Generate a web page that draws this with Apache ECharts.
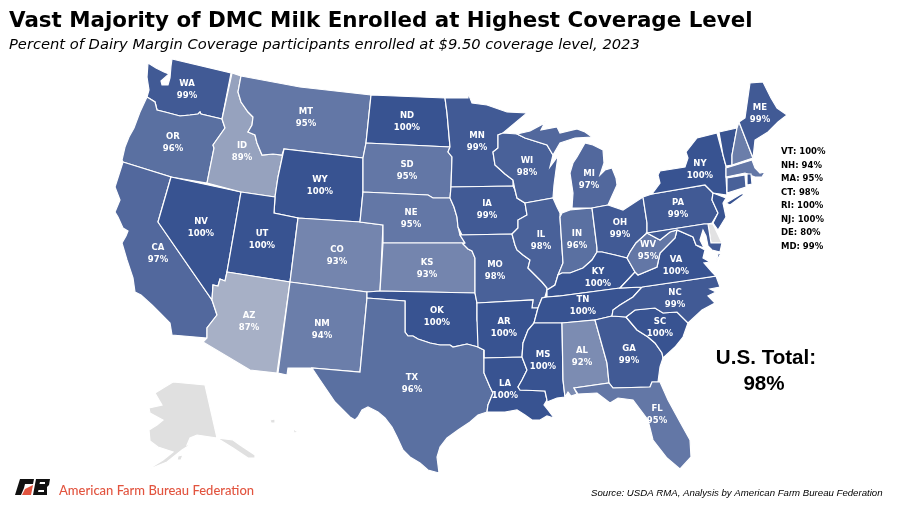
<!DOCTYPE html>
<html><head><meta charset="utf-8">
<style>html,body{margin:0;padding:0;background:#fff}#c{width:900px;height:507px}</style>
<script src="https://cdn.jsdelivr.net/npm/echarts@6/dist/echarts.min.js"></script>
</head><body><div id="c"></div>
<script>
const stateCodes = ['WA','OR','CA','NV','ID','MT','WY','UT','AZ','CO','NM','ND','SD','NE','KS','OK','TX','MN','IA','MO','AR','LA','WI','IL','IN','MI','OH','KY','TN','MS','AL','GA','FL','SC','NC','VA','WV','PA','NY','ME','VT','NH','MA','CT','RI','NJ','DE','MD'];
const percentValues = [99,96,97,100,89,95,100,100,87,93,94,100,95,95,93,100,96,99,99,98,100,100,98,98,96,97,99,100,100,100,92,99,95,100,99,100,95,99,100,99,100,94,95,98,100,100,80,99];
const sideListStates = ['VT','NH','MA','CT','RI','NJ','DE','MD'];
const titleText = 'Vast Majority of DMC Milk Enrolled at Highest Coverage Level';
const subtitleText = 'Percent of Dairy Margin Coverage participants enrolled at $9.50 coverage level, 2023';
const totalLabel = 'U.S. Total:';
const totalValue = '98%';
const sourceText = 'Source: USDA RMA, Analysis by American Farm Bureau Federation';
const orgText = 'American Farm Bureau Federation';

// Hand-traced basemap geometry (flat projected space): shared borders, then state outlines
const rv = a => [...a].reverse();
const columbia=[[147,97],[155,102],[157,110],[165,112],[180,116],[190,115],[198,114],[200,112],[201,114],[222,119]];
const snake=[[222,119],[225,128],[213,145],[214,148],[207,183]];
const bitterroot=[[241,76],[238,92],[241,102],[248,112],[253,117],[252,125],[248,132],[255,135],[257,143],[262,155],[273,154],[282,155],[284,149]];
const sdIowa=[[450,147],[448,152],[452,157],[451,187]];
const moNebraska=[[451,187],[450,198],[454,207],[457,217],[458,227],[460,235]];
const moKansas=[[460,235],[465,243],[463,244],[468,249],[472,251],[475,258]];
const mnWi=[[498,135],[498,148],[493,152],[495,165],[505,174],[513,180],[513,186]];
const iaIl=[[513,186],[515,190],[517,198],[525,203],[527,215],[518,220],[518,228],[512,234]];
const moIl=[[512,234],[515,245],[517,250],[523,255],[530,260],[528,268],[535,275],[542,282],[547,288],[547,290]];
const arRiver=[[542,298],[538,308],[534,323],[528,330],[523,343],[522,357]];
const laMs=[[522,357],[527,370],[522,380],[518,387],[520,390],[545,391],[547,400]];
const ohioIlIn=[[547,290],[555,285],[558,275],[562,273],[570,273],[583,268],[592,260],[597,252]];
const ohioOh=[[597,252],[602,252],[615,255],[627,258]];
const ohWv=[[627,258],[630,252],[636,243],[647,233],[647,223]];
const red=[[405,332],[408,336],[413,336],[418,339],[430,343],[440,345],[450,345],[453,347],[467,344],[478,347],[484,350]];
const sabine=[[484,350],[484,373],[490,387],[493,393],[488,405],[487,412]];
const tnNc=[[642,287],[633,297],[620,305],[613,310],[612,316]];
const savannah=[[626,317],[637,330],[648,337],[655,343],[662,353],[663,358]];
const ncSc=[[626,317],[635,310],[655,308],[663,313],[677,312],[688,323]];
const wvVa=[[635,272],[638,275],[657,267],[660,253],[675,238],[677,230]];
const outlines = {
WA:[[[148,63],[156,68],[164,72],[169,74],[161,81],[162,85],[168,85],[170,78],[171,66],[172,59],[231,73],...rv(columbia),[149,90],[147,77]]],
OR:[[...columbia,...snake,[171,177],[123,162],[122,160],[125,147],[129,137],[134,128],[140,112]]],
CA:[[[123,162],[171,177],[158,222],[212,300],[217,315],[207,328],[207,338],[172,335],[170,323],[160,313],[152,305],[141,295],[135,292],[133,278],[127,260],[122,243],[126,236],[128,231],[123,228],[118,217],[115,212],[120,200],[115,187]]],
NV:[[[171,177],[241,192],[227,272],[225,281],[220,279],[218,286],[213,285],[212,300],[158,222]]],
ID:[[[232,73],...bitterroot,[278,177],[275,197],[241,192],...rv(snake)]],
MT:[[[241,76],[300,87],[371,95],[366,143],[363,158],...rv(bitterroot)]],
WY:[[[284,149],[363,158],[363,192],[360,222],[298,218],[274,213],[275,197],[278,177]]],
UT:[[[241,192],[275,197],[274,213],[298,218],[290,282],[227,272]]],
AZ:[[[227,272],[290,282],[277,373],[250,370],[203,342],[207,338],[207,328],[217,315],[212,300],[213,285],[218,286],[220,279],[225,281]]],
CO:[[[298,218],[360,222],[383,225],[380,291],[367,292],[290,282]]],
NM:[[[290,282],[367,292],[367,298],[360,372],[312,368],[288,368],[287,375],[278,373]]],
ND:[[[371,95],[445,98],[447,113],[450,147],[366,143]]],
SD:[[[366,143],...sdIowa,[450,198],[433,198],[428,195],[363,192],[363,158]]],
NE:[[[363,192],[428,195],[433,198],[450,198],[454,207],[457,217],[458,227],[460,235],[465,243],[383,243],[383,225],[360,222]]],
KS:[[[383,243],[465,243],[463,244],[468,249],[472,251],[475,258],[475,293],[380,291]]],
OK:[[[367,292],[380,291],[475,293],[477,303],[477,320],...rv(red),[405,301],[367,298]]],
TX:[[[367,298],[405,301],...red,...sabine,[478,415],[470,422],[458,430],[447,438],[440,447],[437,457],[439,473],[428,470],[420,463],[410,457],[403,450],[397,437],[392,427],[385,418],[378,412],[368,407],[362,410],[358,417],[355,420],[350,417],[335,402],[320,380],[312,368],[360,372]]],
MN:[[[445,98],[468,98],[468,93],[472,103],[487,105],[507,112],[527,113],[503,133],...mnWi,[451,187],...rv(sdIowa),[447,113]]],
IA:[[...moNebraska.slice(0,-1),[462,235],...rv(iaIl),[451,187]]],
MO:[[[460,235],...moIl.slice(0,-1),[547,290],[545,297],...arRiver.slice(0,2),[532,308],[533,300],[477,303],[475,293],...rv(moKansas)]],
AR:[[[477,303],[533,300],[532,308],...arRiver.slice(1),[484,358],[484,350],[478,347],[477,320]]],
LA:[[[484,358],...laMs,[544,405],[548,410],[554,418],[547,416],[540,420],[532,420],[525,415],[517,410],[505,412],[490,412],...rv(sabine)]],
WI:[[[498,135],[503,133],[517,134],[525,138],[547,145],[553,155],[550,167],[558,156],[556,170],[554,185],[553,198],[525,203],[517,198],[515,190],...rv(mnWi).slice(1)]],
IL:[[[525,203],[553,198],[557,207],[560,213],[560,217],[563,263],[558,275],[555,285],...rv(moIl).slice(0,-1),[512,234],[518,228],[518,220],[527,215]]],
IN:[[[560,217],[562,213],[570,210],[592,208],[597,248],[597,252],[592,260],[583,268],[570,273],[562,273],[558,275],[563,263]]],
MI:[[[585,143],[593,145],[603,150],[604,163],[600,175],[605,170],[612,168],[616,178],[617,185],[612,196],[608,205],[592,208],[572,208],[573,193],[570,173],[573,163],[577,157]],[[517,134],[530,131],[543,124],[546,120],[541,130],[557,127],[560,133],[577,129],[585,132],[592,137],[575,138],[560,143],[553,155],[547,145],[525,138]]],
OH:[[[592,208],[608,205],[623,210],[643,197],...rv(ohWv),...rv(ohioOh),[597,248]]],
KY:[[...ohioIlIn,...ohioOh.slice(1),[635,272],[620,288],[560,296],[561,299],[559,296],[547,297]]],
TN:[[[542,298],[547,297],[560,296],[620,288],...tnNc,[595,320],[562,323],[534,323],[538,308]]],
MS:[[[534,323],[562,323],[563,380],[565,397],[557,398],[547,402],...rv(laMs),...rv(arRiver).slice(1,3)]],
AL:[[[562,323],[595,320],[607,363],[609,383],[574,388],[577,394],[571,396],[568,392],[565,397],[563,380]]],
GA:[[[595,320],[612,316],...savannah,[660,367],[658,382],[652,382],[650,387],[613,388],[609,383],[607,363]]],
FL:[[[574,388],[609,383],[613,388],[650,387],[652,382],[658,382],[660,382],[668,400],[680,422],[690,440],[691,457],[680,469],[667,458],[653,440],[648,420],[633,400],[618,398],[610,403],[597,393],[578,394]]],
SC:[[...ncSc,[683,337],[675,347],[663,358],...rv(savannah).slice(1)]],
NC:[[[642,287],[683,281],[716,276],[720,287],[710,289],[716,292],[708,296],[715,303],[702,310],[688,323],...rv(ncSc),[612,316],...rv(tnNc).slice(1,-1)]],
VA:[[[620,288],[635,272],...wvVa.slice(1),[693,237],[696,245],[705,250],[703,258],[710,262],[704,263],[712,272],[716,276],[683,281],[642,287]],[[718,254],[721,253],[716,262]]],
WV:[[[636,243],[647,233],[660,240],[670,232],[677,230],[675,238],[660,253],[657,267],[638,275],[635,272],[627,258],[630,252]]],
PA:[[[643,197],[652,194],[705,185],[713,193],[712,200],[718,213],[712,223],[708,224],[704,224],[647,233],[647,223]]],
NY:[[[652,194],[660,183],[658,175],[660,171],[685,167],[688,158],[686,152],[697,138],[717,133],[723,155],[726,166],[726,177],[727,195],[713,193],[705,185]],[[726,203],[741,194],[745,194],[730,205]]],
VT:[[[719,132],[737,128],[732,155],[732,165],[726,166],[723,155]]],
NH:[[[737,128],[739,122],[753,158],[732,165],[732,155]]],
ME:[[[739,122],[745,118],[750,83],[763,82],[771,98],[777,108],[787,115],[778,122],[768,132],[755,140],[753,158]]],
MA:[[[726,168],[752,160],[755,168],[760,173],[765,172],[762,177],[755,177],[745,173],[726,177]]],
CT:[[[727,178],[745,175],[746,187],[727,193]]],
RI:[[[747,174],[751,174],[752,184],[747,185]]],
NJ:[[[713,193],[726,198],[723,203],[726,217],[718,230],[713,223],[718,213],[712,200]]],
DE:[[[708,224],[713,224],[722,243],[711,243]]],
MD:[[[647,233],[704,224],[708,224],[711,243],[722,243],[720,252],[712,250],[708,246],[706,236],[703,230],[700,240],[704,248],[696,245],[693,237],[677,230],[670,232],[660,240]]],
AK:[[[155,393],[173,382],[205,385],[217,438],[233,440],[240,445],[255,455],[255,458],[248,458],[233,448],[217,438],[197,435],[190,438],[187,445],[193,443],[182,450],[167,462],[147,470],[163,460],[173,452],[158,447],[150,441],[149,430],[157,425],[163,420],[150,413],[149,408],[162,405]],[[178,456],[183,455],[181,460],[177,460]]],
HI:[[[270,420],[275,419],[275,423],[271,423]],[[293,428],[296,431],[299,432],[294,433]]]
};
// Label anchor of each state, same flat space
const labelAnchors = {WA:[187,90],OR:[173,143],ID:[242,152],MT:[306,118],WY:[320,186],NV:[201,228],UT:[262,240],CA:[158,254],AZ:[249,322],CO:[337,256],NM:[322,330],ND:[407,122],SD:[407,171],NE:[411,219],KS:[427,269],OK:[437,317],TX:[412,384],MN:[477,142],IA:[487,210],MO:[495,271],AR:[504,328],LA:[505,390],WI:[527,167],IL:[541,241],IN:[577,240],MI:[589,180],OH:[620,229],KY:[598,278],TN:[583,306],MS:[543,361],AL:[582,357],GA:[629,355],FL:[657,415],SC:[660,328],NC:[675,299],VA:[676,266],WV:[648,251],PA:[678,209],NY:[700,170],ME:[760,114]};

const features = Object.keys(outlines).map(code => ({
  type:'Feature',
  properties:{name:code, cp: labelAnchors[code] ? [labelAnchors[code][0], -labelAnchors[code][1]] : undefined},
  geometry:{type:'MultiPolygon', coordinates: outlines[code].map(r => [r.map(p => [p[0], -p[1]])])}
}));
echarts.registerMap('us',{type:'FeatureCollection',features});

const chart = echarts.init(document.getElementById('c'),null,{renderer:'canvas'});
const valueOf = c => percentValues[stateCodes.indexOf(c)];
const sideLines = sideListStates.map((c,i)=>({type:'text',left:781,top:147.5+i*13.5,silent:true,
  style:{text:c+': '+valueOf(c)+'%',font:'bold 8.5px "DejaVu Sans"',fill:'#000'}}));
const poly = (points,fill)=>({type:'polygon',silent:true,shape:{points},style:{fill}});

chart.setOption({
  animation:false,
  backgroundColor:'#fff',
  visualMap:{show:false,type:'continuous',min:80,max:100,seriesIndex:0,inRange:{color:['#e2e2e3','#385391']}},
  series:[{
    type:'map',map:'us',roam:false,aspectScale:1,silent:true,
    left:0,top:0,width:900,height:507,
    boundingCoords:[[0,0],[900,-507]],
    itemStyle:{areaColor:'#e0e0e0',borderColor:'#fff',borderWidth:1.2},
    label:{show:true,color:'#fff',fontFamily:'DejaVu Sans',fontWeight:'bold',fontSize:8.5,lineHeight:12,
      formatter:p=>isNaN(p.value)?'':p.name+'\n'+p.value+'%'},
    emphasis:{disabled:true},
    data:stateCodes.map((c,i)=>({name:c,value:percentValues[i],
      label:{show:sideListStates.indexOf(c)<0}}))
  }],
  graphic:[
    {type:'text',left:9,top:11,silent:true,style:{text:titleText,font:'bold 21.4px "DejaVu Sans"',fill:'#000'}},
    {type:'text',left:9,top:38,silent:true,style:{text:subtitleText,font:'italic 14.7px "DejaVu Sans"',fill:'#000'}},
    {type:'text',x:766,y:358,silent:true,style:{text:totalLabel,font:'bold 20.6px "Liberation Sans"',fill:'#000',align:'center',verticalAlign:'middle'}},
    {type:'text',x:764,y:384,silent:true,style:{text:totalValue,font:'bold 20.6px "Liberation Sans"',fill:'#000',align:'center',verticalAlign:'middle'}},
    {type:'text',left:591,top:488,silent:true,style:{text:sourceText,font:'italic 9.63px "Liberation Sans"',fill:'#000'}},
    {type:'text',left:59,top:484,silent:true,style:{text:orgText,font:'500 13px Lato',fill:'#e2543f'}},
    poly([[20,479],[34,479],[33,484],[25,484],[24,488],[21,495],[15,495]],'#111'),
    poly([[25,489],[33,485],[31,495],[22,495]],'#e2543f'),
    poly([[36,479],[50,479],[49,485],[47,487],[47,495],[33,495]],'#111'),
    poly([[40,482],[45,482],[45,484],[39.5,484]],'#fff'),
    poly([[38.5,490],[44,490],[44,492],[38,492]],'#fff'),
    ...sideLines
  ]
});
</script></body></html>
